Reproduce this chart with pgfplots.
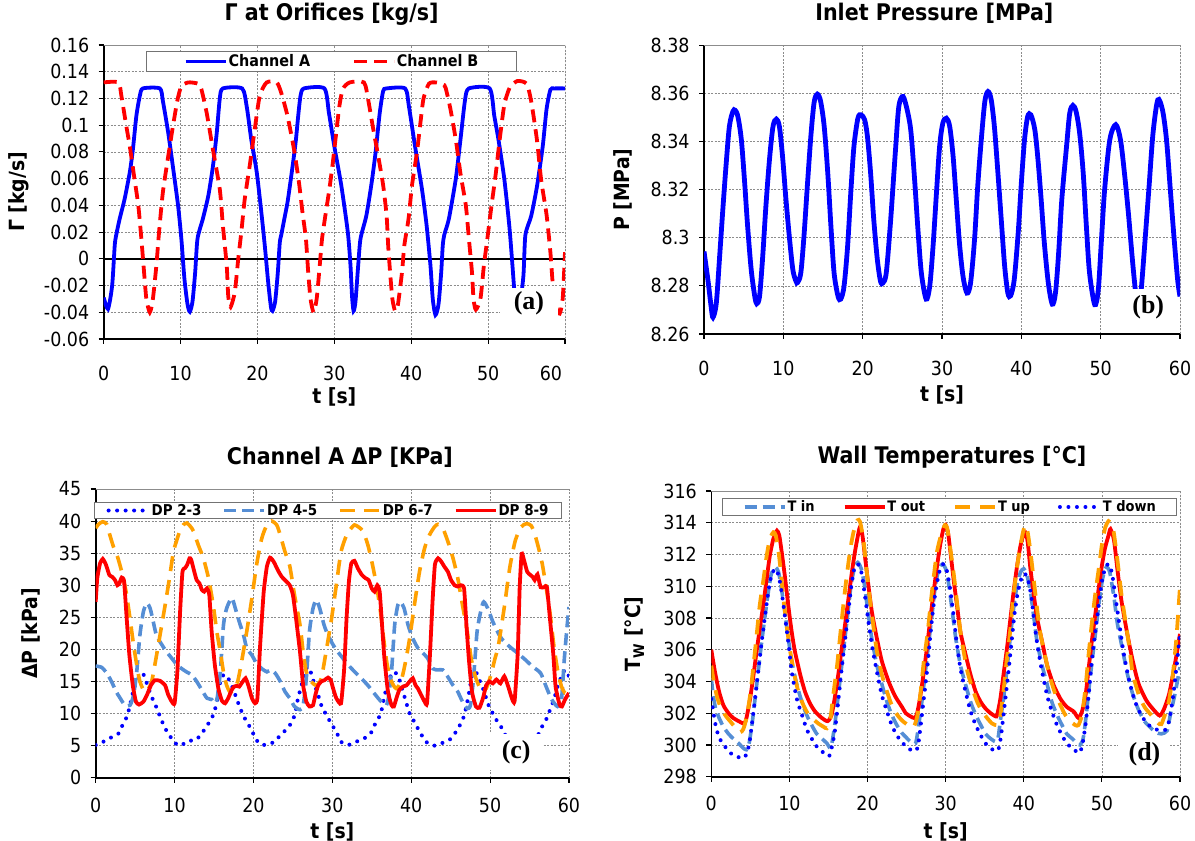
\documentclass[border=0pt]{standalone}
\usepackage{fontspec}
\setmainfont{DejaVu Sans Condensed}
\newfontfamily\labfont{Liberation Serif}
\usepackage{pgfplots}
\pgfplotsset{compat=1.18}
\definecolor{lblue}{RGB}{85,142,213}
\definecolor{orng}{RGB}{255,160,0}
\tikzset{lab/.style={fill=white, inner sep=0pt, font=\labfont\bfseries\fontsize{26}{28}\selectfont}}
\pgfplotsset{
  panel/.style={
    scale only axis, anchor=south west,
    xmin=0, xmax=60,
    axis x line*=bottom, axis y line*=left,
    axis line style={black, line width=1.6bp},
    tick align=outside, major tick length=5bp,
    tick style={black, line width=1.1bp},
    grid=major,
    major grid style={black!45, line width=0.7bp, dash pattern=on 2bp off 1.5bp},
    ticklabel style={font=\fontsize{19.5}{22}\selectfont},
    yticklabel style={xshift=-6bp},
    /pgf/number format/assume math mode=true,
    /pgf/number format/fixed,
    title style={font=\bfseries\fontsize{23}{26}\selectfont},
    label style={font=\bfseries\fontsize{21}{24}\selectfont},
    legend image code/.code={\draw[##1] (0bp,0bp) -- (40bp,0bp);},
  },
}
\begin{document}
\begin{tikzpicture}
\useasboundingbox (0,0) rectangle (1195bp,841bp);
% ---------------- (a)
\begin{axis}[panel, at={(103.7bp,502bp)}, width=461.3bp, height=294bp,
  ymin=-0.06, ymax=0.16,
  ytick={-0.06,-0.04,-0.02,0,0.02,0.04,0.06,0.08,0.1,0.12,0.14,0.16},
  /pgf/number format/precision=2,
  xticklabel style={yshift=-19bp},
  xtick={0,10,20,30,40,50}, extra x ticks={60},
  extra x tick style={xticklabel style={xshift=-14bp}},
  title={Γ at Orifices [kg/s]}, xlabel={t [s]}, ylabel={Γ [kg/s]},
  title style={at={(axis description cs:0.494,1.083)}, anchor=center},
  xlabel style={at={(axis description cs:0.5,-0.196)}, anchor=center},
  ylabel style={at={(axis description cs:-0.184,0.5)}, anchor=center},
  legend columns=2,
  legend style={at={(0.494,0.944)}, anchor=center, draw=black!55, line width=1.1bp, fill=white,
    font=\bfseries\fontsize{16}{18}\selectfont, inner xsep=37bp, inner ysep=2bp,
    nodes={inner sep=1bp}, /tikz/every even column/.append style={column sep=41bp}},
]
\draw[black, line width=1.5bp] (axis cs:0,0) -- (axis cs:60,0);
\addplot[blue, line width=3.8bp, smooth, tension=0.4] coordinates {
(0,-0.029) (0.56,-0.0376) (1.1,-0.02) (1.43,0.0097) (1.6,0.017) (2.08,0.030) (2.73,0.045) (3.4,0.065) (3.8,0.082) (4.25,0.107) (4.7,0.122) (5.1,0.1275) (7.3,0.1275) (7.7,0.118) (8.4,0.094) (9.0,0.069) (9.67,0.04) (10.1,0.015) (10.5,-0.015) (10.9,-0.034) (11.2,-0.0396) (11.55,-0.032) (11.9,-0.01) (12.2,0.015) (12.9,0.03) (13.6,0.047) (14.2,0.069) (14.7,0.094) (15.1,0.12) (15.5,0.1275) (18.0,0.1275) (18.6,0.114) (19.2,0.089) (19.9,0.065) (20.5,0.035) (20.95,0.01) (21.4,-0.018) (21.75,-0.036) (21.95,-0.039) (22.3,-0.032) (22.65,-0.01) (22.9,0.012) (23.1,0.018) (23.5,0.03) (23.9,0.042) (24.3,0.058) (24.7,0.075) (25.0,0.089) (25.3,0.107) (25.6,0.122) (26.05,0.1275) (28.7,0.1275) (29.3,0.109) (30.0,0.084) (30.9,0.055) (31.75,0.02) (32.1,-0.005) (32.3,-0.028) (32.5,-0.039) (32.75,-0.032) (33.1,-0.005) (33.4,0.015) (34.15,0.032) (34.8,0.055) (35.35,0.079) (35.9,0.109) (36.35,0.1255) (36.8,0.1275) (39.2,0.1275) (39.7,0.114) (40.5,0.084) (41.4,0.052) (42.0,0.025) (42.5,-0.005) (42.8,-0.03) (43.15,-0.042) (43.55,-0.034) (43.9,-0.01) (44.1,0.01) (44.3,0.018) (44.9,0.03) (45.8,0.06) (46.4,0.089) (47.0,0.119) (47.5,0.1275) (50.2,0.1275) (50.8,0.107) (51.35,0.089) (52.1,0.06) (52.75,0.025) (53.1,0.0) (53.5,-0.03) (53.85,-0.04) (54.2,-0.032) (54.6,-0.012) (54.85,0.018) (55.6,0.032) (56.35,0.054) (57.1,0.084) (57.6,0.112) (58.1,0.1265) (58.6,0.1275) (60,0.1275)
};
\addlegendentry{Channel A}
\addplot[red, line width=3.8bp, smooth, tension=0.4, dash pattern=on 13bp off 7bp] coordinates {
(0,0.132) (1.9,0.132) (2.3,0.122) (2.95,0.099) (3.4,0.084) (4.0,0.06) (4.5,0.04) (4.9,0.015) (5.25,-0.01) (5.55,-0.03) (6.0,-0.040) (6.4,-0.03) (6.85,-0.005) (7.2,0.02) (7.7,0.05) (8.4,0.077) (9.0,0.099) (9.6,0.119) (10.1,0.129) (11.0,0.132) (12.3,0.131) (12.7,0.127) (13.4,0.109) (14.2,0.082) (15.1,0.052) (15.5,0.025) (16.0,-0.005) (16.2,-0.028) (16.5,-0.036) (17.05,-0.025) (17.5,0.0) (17.9,0.02) (18.35,0.045) (19.0,0.07) (19.65,0.097) (20.3,0.122) (21.2,0.132) (22.5,0.132) (23.1,0.124) (23.9,0.107) (24.75,0.082) (25.4,0.057) (25.85,0.035) (26.3,0.015) (26.6,-0.01) (26.9,-0.03) (27.3,-0.040) (27.7,-0.03) (28.1,-0.005) (28.4,0.015) (28.9,0.035) (29.35,0.052) (29.8,0.072) (30.2,0.092) (30.65,0.114) (31.1,0.127) (32.0,0.132) (33.85,0.132) (34.4,0.119) (35.0,0.099) (35.7,0.077) (36.35,0.055) (36.8,0.032) (37.0,0.01) (37.25,-0.01) (37.55,-0.03) (37.9,-0.039) (38.25,-0.035) (38.8,-0.01) (39.1,0.01) (39.65,0.03) (40.1,0.055) (40.75,0.08) (41.2,0.102) (41.6,0.12) (42.3,0.131) (43.2,0.132) (44.3,0.130) (44.6,0.125) (45.1,0.112) (45.8,0.089) (46.4,0.064) (47.1,0.04) (47.5,0.015) (47.9,-0.01) (48.1,-0.03) (48.4,-0.038) (49.0,-0.03) (49.45,-0.005) (49.9,0.015) (50.4,0.038) (51.0,0.064) (51.5,0.089) (52.1,0.115) (52.8,0.128) (53.8,0.133) (55.0,0.131) (55.6,0.118) (56.35,0.089) (56.9,0.059) (57.6,0.033) (58.1,0.005) (58.4,-0.018) (58.85,-0.036) (59.3,-0.041) (59.7,-0.03) (60,0.005)
};
\addlegendentry{Channel B}
\draw[black!45, line width=0.8bp] (rel axis cs:0,1) -- (rel axis cs:1,1) -- (rel axis cs:1,0);
\node[lab, minimum width=58bp, minimum height=32bp] at (axis cs:55.3,-0.0335) {(a)};
\end{axis}
% ---------------- (b)
\begin{axis}[panel, at={(704bp,507bp)}, width=476bp, height=288.7bp,
  ymin=8.26, ymax=8.38,
  ytick={8.26,8.28,8.3,8.32,8.34,8.36,8.38},
  /pgf/number format/precision=2,
  xticklabel style={yshift=-19bp},
  xtick={0,10,20,30,40,50,60},
  title={Inlet Pressure [MPa]}, xlabel={t [s]}, ylabel={P [MPa]},
  title style={at={(axis description cs:0.484,1.090)}, anchor=center},
  xlabel style={at={(axis description cs:0.5,-0.211)}, anchor=center},
  ylabel style={at={(axis description cs:-0.170,0.5)}, anchor=center},
]
\addplot[blue, line width=4.8bp, smooth, tension=0.5] coordinates {
(0,8.2943) (0.5,8.2823) (0.9,8.2713) (1.13,8.2669) (1.55,8.2728) (1.97,8.2922) (2.4,8.313) (2.8,8.331) (3.2,8.3463) (3.64,8.3525) (3.93,8.353) (4.27,8.3504) (4.7,8.341) (5.1,8.324) (5.5,8.3047) (5.95,8.2867) (6.4,8.2756) (6.65,8.2726) (7.0,8.2756) (7.4,8.2922) (7.8,8.313) (8.25,8.3324) (8.7,8.3463) (9.12,8.3493) (9.5,8.3463) (9.9,8.3338) (10.3,8.3172) (10.75,8.3006) (11.2,8.2867) (11.6,8.2819) (11.8,8.2814) (12.2,8.2853) (12.6,8.3006) (13.05,8.3227) (13.5,8.3435) (13.9,8.3567) (14.3,8.3597) (14.7,8.3567) (15.15,8.3463) (15.6,8.3269) (16.0,8.3047) (16.4,8.2853) (16.9,8.2756) (17.24,8.2745) (17.65,8.2798) (18.1,8.2964) (18.5,8.3186) (18.9,8.338) (19.4,8.3497) (19.8,8.3511) (20.25,8.349) (20.6,8.3421) (21.0,8.3269) (21.4,8.3075) (21.85,8.2909) (22.25,8.2819) (22.55,8.2812) (22.97,8.2853) (23.5,8.3061) (24.14,8.3366) (24.56,8.3546) (25.1,8.3587) (25.7,8.3518) (26.1,8.3435) (26.55,8.324) (26.97,8.3033) (27.4,8.2853) (28.0,8.2745) (28.45,8.2798) (28.87,8.2964) (29.3,8.3186) (29.7,8.338) (30.1,8.3476) (30.55,8.3497) (30.97,8.3463) (31.4,8.3338) (31.8,8.3158) (32.2,8.2978) (32.65,8.2839) (33.15,8.277) (33.6,8.2812) (34.1,8.2992) (34.5,8.3213) (34.95,8.3407) (35.4,8.3567) (35.8,8.3608) (36.2,8.3574) (36.6,8.3463) (37.05,8.3269) (37.5,8.3061) (37.9,8.2881) (38.3,8.277) (38.65,8.2759) (39.1,8.2825) (39.6,8.3019) (40.0,8.3227) (40.4,8.3407) (40.8,8.3504) (41.2,8.3511) (41.7,8.3449) (42.1,8.3324) (42.5,8.3158) (42.9,8.2978) (43.4,8.2812) (43.9,8.2724) (44.3,8.277) (44.7,8.2936) (45.1,8.3158) (45.7,8.338) (46.1,8.3518) (46.5,8.355) (46.9,8.3525) (47.35,8.3435) (47.8,8.3269) (48.2,8.3047) (48.6,8.2853) (49.25,8.2722) (49.7,8.2784) (50.1,8.2992) (50.5,8.32) (51.15,8.3407) (51.9,8.347) (52.5,8.3407) (53.0,8.3268) (53.5,8.310) (54.0,8.2909) (54.4,8.2775) (54.7,8.2725) (55.0,8.277) (55.15,8.2798) (55.6,8.2992) (56.1,8.3213) (56.6,8.3435) (57.2,8.3573) (57.8,8.353) (58.3,8.3407) (58.75,8.3213) (59.2,8.302) (59.7,8.2826) (60,8.2756)
};
\draw[black!45, line width=0.8bp] (rel axis cs:0,1) -- (rel axis cs:1,1) -- (rel axis cs:1,0);
\node[lab, minimum width=54bp, minimum height=36bp] at (axis cs:56,8.2712) {(b)};
\end{axis}
% ---------------- (c)
\begin{axis}[panel, at={(95.7bp,63.3bp)}, width=473.3bp, height=288.7bp,
  ymin=0, ymax=45, ytick={0,5,...,45},
  xticklabel style={yshift=-12bp},
  xtick={0,10,20,30,40,50,60},
  title={Channel A ΔP [KPa]}, xlabel={t [s]}, ylabel={ΔP [kPa]},
  title style={at={(axis description cs:0.516,1.089)}, anchor=center},
  xlabel style={at={(axis description cs:0.5,-0.187)}, anchor=center},
  ylabel style={at={(axis description cs:-0.137,0.5)}, anchor=center},
  legend columns=4,
  legend style={at={(0.491,0.9255)}, anchor=center, draw=black!55, line width=1.1bp, fill=white,
    font=\bfseries\fontsize{15}{17}\selectfont, inner xsep=12bp, inner ysep=1bp,
    nodes={inner sep=1bp}, /tikz/every even column/.append style={column sep=20bp}},
]
\addplot[blue, line width=4bp, line cap=round, dash pattern=on 0bp off 8.5bp, smooth, tension=0.4] coordinates {
(0,5.1) (0.95,5.6) (2.0,6.3) (2.9,6.9) (3.4,8.2) (3.85,9.25) (4.2,10.55) (4.45,11.85) (4.7,13.15) (5.0,14.45) (5.4,15.5) (5.85,16.3) (6.1,16.0) (6.4,15.0) (6.7,13.9) (7.1,12.6) (7.65,11.1) (8.25,9.25) (8.8,7.7) (9.35,6.65) (9.95,5.5) (10.8,5.0) (11.6,5.7) (12.7,5.9) (13.45,6.9) (14.1,8.1) (14.7,9.25) (15.1,10.55) (15.45,12.4) (15.7,14.45) (16.0,15.75) (16.4,16.1) (16.8,15.5) (17.4,13.9) (18.0,11.85) (18.6,10.0) (19.15,8.7) (19.65,7.7) (20.1,6.55) (20.7,5.35) (21.6,5.1) (22.65,5.6) (23.25,6.4) (23.9,7.2) (24.5,8.0) (25.0,9.0) (25.3,10.2) (25.65,12.4) (26.1,14.45) (26.5,16.5) (26.9,17.3) (27.25,16.5) (27.7,14.7) (28.2,12.9) (28.6,11.3) (29.0,10.3) (29.6,9.0) (30.1,7.95) (30.6,6.9) (31.1,5.6) (32.0,5.1) (33.0,5.6) (34.0,6.1) (34.85,6.9) (35.35,8.2) (35.85,9.25) (36.2,10.3) (36.55,12.4) (36.85,13.9) (37.25,15.5) (37.7,16.5) (38.3,16.0) (38.7,14.45) (39.2,12.4) (39.8,10.0) (40.4,8.7) (41.05,7.2) (41.6,6.1) (42.1,5.35) (42.95,5.0) (43.8,5.35) (44.85,5.9) (45.7,7.2) (46.3,8.5) (46.75,9.8) (47.2,12.4) (47.5,14.45) (47.8,16.3) (48.2,16.5) (48.65,15.2) (49.1,13.9) (49.5,12.4) (49.9,11.0) (50.35,10.0) (50.8,9.0) (51.4,7.9) (51.9,6.7) (52.8,5.2) (53.8,5.0) (54.8,5.4) (55.6,6.0) (56.2,6.9) (56.6,8.0) (57.1,9.05) (57.6,10.6) (58.1,12.2) (58.55,14.2) (59.05,15.8) (59.5,16.8) (60,15.8)
};
\addlegendentry{DP 2-3}
\addplot[lblue, line width=3.6bp, dash pattern=on 12bp off 6bp, smooth, tension=0.4] coordinates {
(0,17.4) (0.75,17.2) (1.4,16.3) (2.0,15.0) (2.6,13.4) (3.1,12.4) (3.7,11.3) (4.35,11.3) (4.8,12.9) (5.2,16.5) (5.6,22.2) (6.05,25.9) (6.5,27.2) (6.9,26.4) (7.3,24.3) (7.7,22.2) (8.4,20.7) (9.0,19.6) (9.65,18.6) (10.3,17.6) (10.9,17.0) (11.5,16.5) (12.2,16.0) (12.8,15.0) (13.45,13.7) (14.1,12.4) (14.7,12.2) (15.1,11.6) (15.4,12.4) (15.8,16.5) (16.2,23.8) (16.6,26.4) (17.25,28.0) (17.7,26.4) (18.2,24.3) (18.75,22.2) (19.15,20.2) (19.8,19.1) (20.4,17.8) (21.05,17.0) (21.7,16.5) (22.2,16.8) (22.75,16.3) (23.4,15.0) (24.0,13.4) (24.6,12.4) (25.2,11.1) (25.9,10.6) (26.3,11.3) (26.7,15.5) (27.1,22.8) (27.55,26.4) (27.97,27.7) (28.4,26.4) (28.95,23.8) (29.45,22.2) (30.1,20.7) (30.7,19.6) (31.35,18.6) (32.0,17.6) (32.6,16.8) (33.25,16.0) (33.9,15.2) (34.5,14.4) (35.15,13.4) (35.8,12.4) (36.4,11.6) (36.85,11.3) (37.1,12.4) (37.5,16.5) (37.9,23.8) (38.3,26.9) (38.65,27.4) (39.1,26.4) (39.6,23.8) (40.2,21.7) (40.85,20.2) (41.5,19.4) (42.1,18.6) (42.75,17.0) (43.4,16.8) (44.0,16.8) (44.65,15.7) (45.3,14.4) (45.9,13.4) (46.5,11.85) (47.1,10.8) (47.5,11.3) (47.9,15.5) (48.35,22.8) (48.9,26.4) (49.2,27.4) (49.7,26.4) (50.35,24.3) (51.0,22.6) (51.5,21.6) (52.5,20.4) (53.5,19.4) (54.45,18.4) (55.4,17.3) (56.4,16.3) (57.1,14.2) (57.8,12.2) (58.55,11.1) (59.05,12.2) (59.4,18.4) (59.75,23.5) (60,26.6)
};
\addlegendentry{DP 4-5}
\addplot[orng, line width=3.6bp, dash pattern=on 15bp off 9bp, smooth, tension=0.4] coordinates {
(0,38.9) (0.35,39.5) (0.9,39.9) (1.4,39.5) (1.8,37.8) (2.25,36.0) (2.75,34.5) (3.3,32.1) (3.85,29.0) (4.35,24.8) (4.8,20.7) (5.2,17.6) (5.6,15.0) (6.2,13.4) (6.7,13.9) (7.1,15.0) (7.5,17.6) (8.15,22.2) (8.8,26.9) (9.35,31.1) (9.85,35.2) (10.3,37.1) (10.7,38.6) (11.1,39.4) (11.55,39.7) (12.05,39.1) (12.4,38.4) (13.0,36.3) (13.65,34.2) (14.3,31.1) (14.9,26.9) (15.35,22.8) (15.8,19.6) (16.2,16.5) (16.6,14.4) (17.0,13.4) (17.45,13.6) (18.0,15.0) (18.5,18.1) (19.15,22.8) (19.8,28.0) (20.4,33.2) (21.05,37.3) (21.7,39.4) (22.3,40.0) (22.95,39.4) (23.4,37.8) (24.0,35.2) (24.6,33.0) (25.2,28.5) (25.9,23.8) (26.3,19.6) (26.7,16.5) (27.3,15.0) (28.0,14.4) (28.6,15.5) (29.2,19.6) (29.9,24.8) (30.5,30.0) (31.1,35.2) (31.8,37.8) (32.4,38.9) (32.8,39.4) (33.3,39.1) (33.9,38.4) (34.5,36.3) (35.0,33.7) (35.6,30.0) (36.1,25.9) (36.5,21.7) (36.95,17.6) (37.5,15.0) (38.1,13.9) (38.7,15.0) (39.2,17.6) (39.8,21.7) (40.4,26.9) (41.05,32.1) (41.7,35.8) (42.3,37.8) (42.95,39.1) (43.4,39.5) (44.0,38.9) (44.65,36.8) (45.3,34.2) (45.9,31.1) (46.5,26.9) (47.1,22.8) (47.6,18.6) (48.2,15.5) (48.9,13.6) (49.5,13.9) (50.1,16.0) (50.6,18.5) (51.05,20.6) (51.8,26.6) (52.5,32.8) (53.2,37.0) (53.95,39.1) (54.6,39.6) (55.2,39.3) (55.65,38.0) (56.1,36.0) (56.6,33.4) (57.1,29.7) (57.6,25.6) (58.1,20.4) (58.55,16.8) (59.05,14.2) (59.5,13.2) (60,13.2)
};
\addlegendentry{DP 6-7}
\addplot[red, line width=3.8bp, smooth, tension=0.3] coordinates {
(0,27.4) (0.2,31.1) (0.55,33.4) (0.9,34.1) (1.3,33.2) (1.73,31.6) (2.1,31.3) (2.45,30.8) (2.75,30.0) (3.0,30.3) (3.3,31.2) (3.6,30.6) (3.93,24.8) (4.27,19.1) (4.7,14.4) (5.1,11.85) (5.5,11.4) (6.05,11.85) (6.5,12.9) (7.0,14.4) (7.5,15.2) (8.15,15.1) (8.8,14.4) (9.2,12.9) (9.65,11.85) (10.0,11.6) (10.35,16.5) (10.7,25.9) (11.0,32.1) (11.35,32.7) (11.6,33.2) (11.9,34.2) (12.1,34.0) (12.5,32.1) (12.8,30.8) (13.15,30.3) (13.45,29.3) (13.75,29.0) (14.1,29.5) (14.4,28.5) (14.7,22.8) (15.1,17.6) (15.55,13.9) (16.0,12.0) (16.4,11.6) (16.8,12.4) (17.25,13.7) (17.55,14.2) (17.9,14.3) (18.2,14.2) (18.65,15.0) (19.0,15.5) (19.35,14.4) (19.8,12.4) (20.2,11.6) (20.5,12.4) (20.85,20.7) (21.3,29.0) (21.7,32.9) (22.1,34.3) (22.55,33.7) (23.2,32.1) (23.6,31.3) (24.0,30.8) (24.6,30.0) (25.0,28.5) (25.4,24.8) (25.9,19.6) (26.3,14.4) (26.7,11.85) (27.1,11.1) (27.55,11.3) (27.85,12.9) (28.2,14.4) (28.6,15.0) (29.0,15.2) (29.45,15.6) (29.8,15.2) (30.1,13.9) (30.5,12.4) (31.1,11.6) (31.5,17.0) (31.8,24.8) (32.1,30.6) (32.4,33.4) (32.8,33.8) (33.25,32.6) (33.75,31.6) (34.2,31.1) (34.6,30.8) (35.0,29.5) (35.35,29.0) (35.7,30.0) (36.0,29.0) (36.3,23.8) (36.6,18.6) (37.05,13.4) (37.5,11.3) (37.8,11.1) (38.2,12.7) (38.5,13.7) (38.95,14.2) (39.4,14.4) (39.8,15.0) (40.2,15.5) (40.55,14.4) (40.85,13.9) (41.25,12.9) (41.7,11.85) (42.0,11.6) (42.35,18.6) (42.7,27.4) (43.0,33.2) (43.4,34.2) (43.8,33.7) (44.2,32.9) (44.65,32.1) (45.05,30.8) (45.5,30.0) (45.9,29.8) (46.3,30.0) (46.7,29.5) (47.0,23.8) (47.3,18.6) (47.7,13.4) (48.2,11.1) (48.65,10.9) (49.1,12.4) (49.5,14.4) (49.9,15.0) (50.35,14.7) (50.8,15.3) (51.3,14.7) (51.8,15.8) (52.3,14.2) (52.75,12.4) (53.1,11.9) (53.5,19.4) (53.75,29.7) (54.0,34.9) (54.3,33.9) (54.7,32.1) (55.1,31.6) (55.4,31.3) (55.65,30.8) (56.0,31.7) (56.4,29.7) (56.85,29.7) (57.2,29.7) (57.6,24.6) (58.0,19.4) (58.3,14.2) (58.8,11.4) (59.1,11.1) (59.5,12.2) (60,13.2)
};
\addlegendentry{DP 8-9}
\draw[black!45, line width=0.8bp] (rel axis cs:0,1) -- (rel axis cs:1,1) -- (rel axis cs:1,0);
\node[lab, minimum width=52bp, minimum height=36bp] at (axis cs:53.3,4.0) {(c)};
\end{axis}
% ---------------- (d)
\begin{axis}[panel, at={(711.3bp,64.3bp)}, width=468.7bp, height=285.7bp,
  ymin=298, ymax=316, ytick={298,300,...,316},
  xticklabel style={yshift=-11bp},
  xtick={0,10,20,30,40,50,60},
  title={Wall Temperatures [°C]}, xlabel={t [s]}, ylabel={T\textsubscript{W} [°C]},
  title style={at={(axis description cs:0.5135,1.097)}, anchor=center},
  xlabel style={at={(axis description cs:0.5,-0.1925)}, anchor=center},
  ylabel style={at={(axis description cs:-0.164,0.5)}, anchor=center},
  legend columns=4,
  legend style={at={(0.509,0.944)}, anchor=center, draw=black!55, line width=1.1bp, fill=white,
    font=\bfseries\fontsize{14.5}{17}\selectfont, inner xsep=20bp, inner ysep=1.5bp,
    nodes={inner sep=1bp}, /tikz/every even column/.append style={column sep=27bp}},
]
\addplot[lblue, line width=3.6bp, dash pattern=on 12bp off 6bp, smooth, tension=0.4] coordinates {
(0,304.2) (0.25,303.1) (0.55,302.3) (1.0,301.7) (1.55,301.15) (2.2,300.7) (2.8,300.4) (3.5,300.1) (4.1,299.8) (4.5,299.7) (4.8,300.0) (5.2,301.25) (5.6,302.9) (6.0,304.6) (6.45,306.5) (6.9,308.2) (7.3,309.65) (7.7,310.8) (8.2,311.2) (8.6,310.9) (8.9,310.1) (9.35,308.6) (9.8,306.9) (10.3,305.25) (10.95,303.8) (11.6,302.7) (12.2,301.9) (12.85,301.25) (13.5,300.7) (14.15,300.4) (14.8,300.1) (15.2,299.8) (15.4,300.0) (15.8,301.25) (16.2,302.9) (16.6,304.6) (17.05,306.5) (17.5,308.4) (17.9,310.1) (18.3,311.1) (18.75,311.5) (19.2,311.1) (19.6,310.1) (20.05,308.4) (20.55,306.7) (21.2,305.0) (21.85,303.8) (22.5,302.7) (23.1,301.9) (23.75,301.25) (24.4,300.75) (24.9,300.5) (25.5,300.2) (26.15,300.1) (26.55,301.25) (27.0,302.9) (27.4,304.6) (27.85,306.5) (28.3,308.4) (28.7,310.1) (29.15,311.1) (29.6,311.4) (30.0,311.1) (30.4,310.1) (30.85,308.4) (31.3,306.7) (31.9,305.0) (32.55,303.8) (33.2,302.7) (33.85,301.9) (34.5,301.25) (35.1,300.7) (35.75,300.4) (36.4,300.2) (36.7,300.4) (37.0,301.5) (37.45,303.1) (37.9,305.0) (38.3,306.9) (38.7,308.6) (39.15,310.1) (39.6,310.9) (40.0,311.1) (40.4,310.7) (40.85,309.65) (41.3,308.0) (41.7,306.5) (42.35,305.0) (43.0,303.8) (43.6,302.7) (44.25,301.9) (44.9,301.25) (45.5,300.7) (46.2,300.4) (46.8,300.1) (47.2,300.0) (47.6,300.4) (48.0,301.9) (48.4,303.8) (48.85,305.7) (49.3,307.55) (49.7,309.2) (50.1,310.5) (50.55,311.2) (51.0,310.9) (51.55,309.3) (52.0,307.6) (52.65,306.0) (53.25,304.5) (53.95,303.2) (54.7,302.2) (55.45,301.5) (56.2,301.1) (56.9,300.8) (57.6,300.7) (58.35,300.9) (58.8,302.0) (59.35,303.2) (60,304.9)
};
\addlegendentry{T in}
\addplot[red, line width=3.8bp, smooth, tension=0.4] coordinates {
(0,306.0) (0.47,304.6) (1.0,303.35) (1.55,302.5) (2.2,302.0) (2.8,301.7) (3.5,301.5) (4.2,301.35) (4.5,301.7) (4.96,302.9) (5.4,304.4) (5.8,305.9) (6.2,307.3) (6.7,309.0) (7.1,310.5) (7.5,311.95) (7.95,313.0) (8.4,313.5) (8.7,313.2) (9.0,312.2) (9.45,310.5) (9.9,308.6) (10.3,307.1) (10.7,305.9) (11.4,304.4) (12.0,303.35) (12.65,302.6) (13.3,302.1) (14.15,301.7) (14.9,301.5) (15.4,301.9) (15.85,303.1) (16.3,304.6) (16.7,306.1) (17.1,307.5) (17.55,309.2) (18.0,310.9) (18.4,312.2) (18.85,313.4) (19.05,313.75) (19.35,313.2) (19.7,311.75) (20.1,310.1) (20.55,308.4) (21.2,306.7) (21.85,305.25) (22.7,304.0) (23.5,303.1) (24.4,302.4) (24.9,302.0) (25.5,301.8) (25.95,301.7) (26.3,301.9) (26.7,302.9) (27.15,304.4) (27.6,306.1) (28.0,307.8) (28.4,309.4) (28.85,311.1) (29.3,312.6) (29.7,313.6) (30.0,313.85) (30.3,313.4) (30.6,312.2) (31.05,310.3) (31.5,308.6) (31.9,307.1) (32.55,305.7) (33.2,304.4) (33.85,303.35) (34.5,302.7) (35.1,302.3) (35.75,302.0) (36.4,301.8) (36.6,301.9) (37.0,302.9) (37.45,304.6) (37.9,306.3) (38.3,308.0) (38.7,309.65) (39.15,311.3) (39.6,312.6) (40.0,313.3) (40.2,313.4) (40.5,312.8) (40.85,311.1) (41.3,309.4) (41.7,308.0) (42.35,306.5) (43.0,305.0) (43.8,303.8) (44.7,302.9) (45.5,302.4) (46.4,302.1) (47.0,301.7) (47.45,302.1) (47.9,303.1) (48.3,304.8) (48.7,306.5) (49.15,308.2) (49.6,309.9) (50.0,311.3) (50.4,312.4) (50.85,313.2) (51.1,313.6) (51.55,312.9) (52.0,311.0) (52.5,309.1) (53.25,307.0) (53.95,305.3) (54.7,303.85) (55.7,302.8) (56.65,302.2) (57.4,301.85) (57.9,302.2) (58.6,303.2) (59.35,305.1) (60,307.0)
};
\addlegendentry{T out}
\addplot[orng, line width=3.8bp, dash pattern=on 15bp off 10bp, smooth, tension=0.4] coordinates {
(0,305.0) (0.25,304.2) (0.7,303.1) (1.1,302.5) (1.75,301.9) (2.4,301.5) (3.0,301.15) (3.7,300.8) (4.1,301.0) (4.5,301.7) (4.96,303.1) (5.4,305.0) (5.8,306.9) (6.2,308.8) (6.7,310.5) (7.1,311.95) (7.5,313.0) (7.95,313.4) (8.25,313.2) (8.6,312.2) (8.9,310.9) (9.2,309.4) (9.65,307.5) (10.1,305.9) (10.65,304.4) (11.15,303.35) (11.8,302.5) (12.45,301.9) (13.1,301.6) (13.7,301.35) (14.35,301.15) (14.8,301.05) (15.2,301.5) (15.6,303.1) (16.1,305.0) (16.5,306.9) (16.9,308.8) (17.35,310.7) (17.8,312.35) (18.2,313.4) (18.7,314.15) (19.05,314.05) (19.5,312.8) (19.9,310.9) (20.35,309.0) (20.8,307.3) (21.2,305.9) (21.85,304.4) (22.5,303.35) (23.1,302.5) (23.8,301.9) (24.4,301.55) (24.9,301.35) (25.5,301.15) (25.95,301.15) (26.4,301.9) (26.8,303.35) (27.2,305.25) (27.7,307.1) (28.1,309.0) (28.5,310.7) (28.9,312.2) (29.4,313.2) (29.9,313.85) (30.2,313.65) (30.6,312.35) (31.05,310.7) (31.5,308.8) (31.9,307.1) (32.3,305.9) (32.8,304.6) (33.4,303.6) (34.05,302.7) (34.7,302.1) (35.3,301.7) (35.95,301.35) (36.6,301.25) (36.95,301.7) (37.4,303.35) (37.8,305.25) (38.25,307.1) (38.6,309.0) (39.05,310.9) (39.5,312.35) (39.9,313.4) (40.2,313.85) (40.5,313.4) (40.85,312.2) (41.3,310.3) (41.7,308.6) (42.1,307.1) (42.8,305.45) (43.4,304.2) (44.05,303.2) (44.7,302.5) (45.3,301.9) (45.95,301.5) (46.6,301.25) (47.0,301.25) (47.45,301.9) (47.9,303.6) (48.3,305.7) (48.7,307.6) (49.15,309.5) (49.6,311.1) (50.0,312.6) (50.4,313.65) (50.85,314.1) (51.3,313.85) (51.55,313.3) (52.0,311.6) (52.5,309.5) (53.0,307.85) (53.5,306.2) (53.95,304.5) (54.7,303.2) (55.45,302.4) (56.2,301.95) (57.15,301.4) (57.6,301.3) (58.1,301.95) (58.6,302.8) (59.1,304.5) (59.55,306.8) (60,310.0)
};
\addlegendentry{T up}
\addplot[blue, line width=4bp, line cap=round, dash pattern=on 0bp off 8.5bp, smooth, tension=0.4] coordinates {
(0,302.9) (0.25,302.1) (0.55,301.25) (0.9,300.6) (1.3,300.2) (1.75,299.9) (2.25,299.6) (2.8,299.35) (3.4,299.25) (3.9,299.15) (4.3,299.25) (4.65,299.6) (4.96,300.4) (5.25,301.5) (5.6,302.9) (6.0,304.6) (6.45,306.5) (6.9,308.2) (7.3,309.65) (7.7,310.7) (8.2,311.1) (8.6,310.7) (9.0,309.65) (9.45,308.0) (9.9,306.3) (10.3,304.6) (10.95,302.9) (11.6,301.9) (12.2,301.0) (12.85,300.4) (13.5,299.9) (14.15,299.6) (14.8,299.35) (15.1,299.3) (15.4,299.8) (15.8,300.8) (16.2,302.5) (16.6,304.4) (17.05,306.3) (17.5,308.2) (17.9,309.9) (18.3,311.1) (18.75,311.4) (19.2,310.9) (19.6,309.65) (20.05,308.0) (20.55,306.3) (21.2,304.6) (21.85,303.1) (22.5,302.1) (23.1,301.25) (23.75,300.6) (24.4,300.2) (24.9,299.9) (25.5,299.7) (25.95,299.6) (26.4,299.8) (26.7,300.8) (27.15,302.7) (27.6,304.6) (28.0,306.7) (28.4,308.6) (28.85,310.1) (29.3,311.1) (29.7,311.4) (30.1,311.1) (30.55,309.9) (31.0,308.2) (31.4,306.5) (31.9,304.8) (32.55,303.35) (33.2,302.1) (33.85,301.25) (34.5,300.6) (35.1,300.1) (35.75,299.8) (36.4,299.6) (36.8,299.8) (37.1,300.6) (37.5,302.3) (37.95,304.2) (38.4,306.3) (38.8,308.2) (39.25,309.65) (39.7,310.5) (40.1,310.8) (40.5,310.5) (40.95,309.4) (41.35,307.75) (41.8,306.1) (42.35,304.6) (43.0,303.1) (43.6,302.1) (44.25,301.25) (44.9,300.6) (45.5,300.1) (46.2,299.8) (46.7,299.6) (47.15,299.5) (47.5,300.0) (47.9,301.25) (48.3,303.1) (48.7,305.25) (49.15,307.1) (49.6,308.8) (50.0,310.3) (50.4,311.1) (50.85,311.4) (51.3,310.8) (51.8,309.1) (52.3,307.4) (52.8,305.75) (53.5,304.05) (54.2,302.8) (54.95,301.95) (55.7,301.4) (56.4,301.1) (57.15,300.95) (58.1,300.95) (58.6,301.5) (59.1,303.0) (59.55,304.9) (60,307.0)
};
\addlegendentry{T down}
\draw[black!45, line width=0.8bp] (rel axis cs:0,1) -- (rel axis cs:1,1) -- (rel axis cs:1,0);
\node[lab, minimum width=52bp, minimum height=34bp] at (axis cs:55.45,299.4) {(d)};
\end{axis}
\end{tikzpicture}
\end{document}
